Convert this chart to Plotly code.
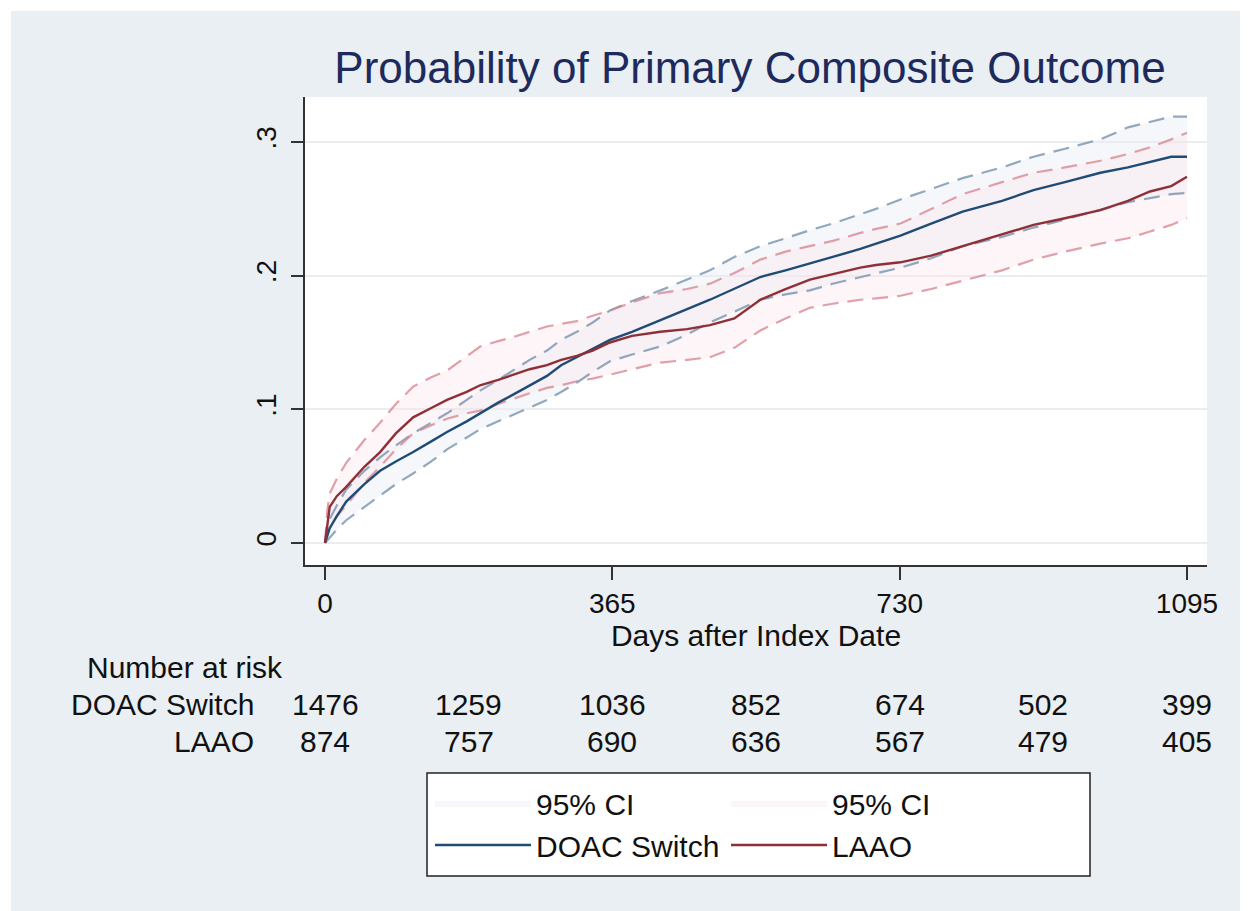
import plotly.graph_objects as go

# ---- data ----
days = [0, 3, 6, 15, 27, 50, 70, 90, 112, 135, 155, 180, 197, 220, 239, 260, 282, 300, 320, 340,
        362, 390, 426, 460, 489, 520, 553, 585, 616, 645, 680, 700, 731, 770, 810, 860, 900, 940,
        985, 1020, 1048, 1075, 1095]

doac = [0, 0.006, 0.011, 0.020, 0.031, 0.044, 0.054, 0.061, 0.068, 0.076, 0.083, 0.091, 0.097, 0.105,
        0.111, 0.118, 0.125, 0.133, 0.139, 0.145, 0.152, 0.158, 0.167, 0.175, 0.182, 0.190, 0.199,
        0.204, 0.209, 0.214, 0.220, 0.224, 0.230, 0.239, 0.248, 0.256, 0.264, 0.270, 0.277, 0.281,
        0.285, 0.289, 0.289]
doac_hi = [0, 0.012, 0.018, 0.028, 0.040, 0.054, 0.064, 0.073, 0.082, 0.090, 0.097, 0.107, 0.114, 0.122,
           0.129, 0.137, 0.144, 0.152, 0.158, 0.165, 0.174, 0.181, 0.189, 0.197, 0.204, 0.214, 0.222,
           0.228, 0.234, 0.239, 0.246, 0.250, 0.257, 0.265, 0.273, 0.281, 0.289, 0.295, 0.302, 0.311,
           0.315, 0.319, 0.319]
doac_lo = [0, 0.002, 0.004, 0.010, 0.017, 0.027, 0.035, 0.044, 0.052, 0.061, 0.070, 0.079, 0.085, 0.091,
           0.096, 0.101, 0.107, 0.113, 0.120, 0.128, 0.136, 0.141, 0.147, 0.156, 0.165, 0.173, 0.182,
           0.186, 0.189, 0.194, 0.199, 0.202, 0.206, 0.213, 0.222, 0.229, 0.236, 0.242, 0.249, 0.255,
           0.258, 0.261, 0.262]

laao = [0, 0.015, 0.027, 0.035, 0.042, 0.057, 0.068, 0.082, 0.094, 0.101, 0.107, 0.113, 0.118, 0.122,
        0.126, 0.130, 0.133, 0.137, 0.140, 0.144, 0.150, 0.155, 0.158, 0.160, 0.163, 0.168, 0.182,
        0.190, 0.197, 0.201, 0.206, 0.208, 0.210, 0.215, 0.222, 0.231, 0.238, 0.243, 0.249, 0.256,
        0.263, 0.267, 0.274]
laao_hi = [0, 0.025, 0.037, 0.048, 0.060, 0.077, 0.090, 0.104, 0.117, 0.124, 0.129, 0.140, 0.147, 0.151,
           0.154, 0.158, 0.162, 0.164, 0.166, 0.170, 0.174, 0.180, 0.187, 0.190, 0.194, 0.202, 0.212,
           0.218, 0.222, 0.226, 0.232, 0.235, 0.239, 0.250, 0.261, 0.270, 0.277, 0.281, 0.286, 0.291,
           0.296, 0.302, 0.307]
laao_lo = [0, 0.006, 0.012, 0.020, 0.028, 0.045, 0.057, 0.070, 0.082, 0.088, 0.093, 0.097, 0.099, 0.104,
           0.108, 0.112, 0.116, 0.118, 0.121, 0.123, 0.126, 0.130, 0.135, 0.137, 0.139, 0.146, 0.159,
           0.168, 0.176, 0.179, 0.182, 0.183, 0.185, 0.190, 0.196, 0.204, 0.212, 0.218, 0.224, 0.228,
           0.233, 0.238, 0.243]

x_ticks = [0, 365, 730, 1095]
y_ticks = [0, 0.1, 0.2, 0.3]
y_tick_labels = ["0", ".1", ".2", ".3"]

risk_days = [0, 182.5, 365, 547.5, 730, 912.5, 1095]
risk_doac = [1476, 1259, 1036, 852, 674, 502, 399]
risk_laao = [874, 757, 690, 636, 567, 479, 405]

# ---- styling ----
FONT = "Liberation Sans, Arial, Helvetica, sans-serif"
BLUE = "#1f4b75"
RED = "#8f2f38"
BLUE_DASH = "rgba(110,140,170,0.75)"
RED_DASH = "rgba(215,130,140,0.75)"
BLUE_FILL = "rgba(232,234,242,0.40)"
RED_FILL = "rgba(250,226,233,0.35)"
BG = "#e9eff3"

# layout geometry (page pixels); the page body adds an 8px offset
OFF = 8
W, H = 1248, 911
PL, PR, PT, PB = 305, 1207, 97, 565
PW, PH = PR - PL, PB - PT


def xp(px):
    return (px - PL) / PW


def yp(py):
    return (PB - py) / PH


fig = go.Figure()

# CI areas
fig.add_trace(go.Scatter(
    x=days + days[::-1], y=doac_hi + doac_lo[::-1], fill="toself", fillcolor=BLUE_FILL,
    line=dict(width=0), mode="lines", name="95% CI", legendgroup="doac", legendrank=1,
    hoverinfo="skip"))
fig.add_trace(go.Scatter(
    x=days + days[::-1], y=laao_hi + laao_lo[::-1], fill="toself", fillcolor=RED_FILL,
    line=dict(width=0), mode="lines", name="95% CI", legendgroup="laao", legendrank=3,
    hoverinfo="skip"))

# CI boundary dashed lines
for arr, col in [(doac_hi, BLUE_DASH), (doac_lo, BLUE_DASH), (laao_hi, RED_DASH), (laao_lo, RED_DASH)]:
    fig.add_trace(go.Scatter(x=days, y=arr, mode="lines", showlegend=False,
                             line=dict(color=col, width=2.2, dash="16px,9px")))

# cumulative incidence curves
fig.add_trace(go.Scatter(x=days, y=doac, mode="lines", name="DOAC Switch", legendgroup="doac",
                         legendrank=2, line=dict(color=BLUE, width=2.4)))
fig.add_trace(go.Scatter(x=days, y=laao, mode="lines", name="LAAO", legendgroup="laao",
                         legendrank=4, line=dict(color=RED, width=2.4)))

TXT = dict(family=FONT, size=30, color="#111111")
annotations = [dict(x=xp(85), y=yp(667), xref="paper", yref="paper", text="Number at risk",
                    showarrow=False, xanchor="left", yanchor="middle", font=TXT)]
for label, vals, py in [("DOAC Switch", risk_doac, 704), ("LAAO", risk_laao, 741)]:
    annotations.append(dict(x=xp(256), y=yp(py), xref="paper", yref="paper", text=label,
                            showarrow=False, xanchor="right", yanchor="middle", font=TXT))
    for d, v in zip(risk_days, vals):
        annotations.append(dict(x=d, y=yp(py), xref="x", yref="paper", text=str(v),
                                showarrow=False, xanchor="center", yanchor="middle", font=TXT))

fig.update_layout(
    width=W, height=H,
    margin=dict(l=PL - OFF, r=W - (PR - OFF), t=PT - OFF, b=H - (PB - OFF), autoexpand=False),
    paper_bgcolor=BG, plot_bgcolor="white",
    font=dict(family=FONT, size=28, color="#111111"),
    title=dict(text="Probability of Primary Composite Outcome", x=(750 - OFF) / W, xanchor="center",
               xref="container", yref="container", y=1 - (68 - OFF) / H, yanchor="middle",
               font=dict(family=FONT, size=44, color="#1f2a5c")),
    xaxis=dict(range=[-25.4, 1120.4], tickvals=x_ticks, ticks="outside", ticklen=13, tickwidth=1.5,
               tickcolor="#333", showline=True, linecolor="#333", linewidth=1.5, showgrid=False,
               zeroline=False, title=dict(text="Days after Index Date", standoff=2,
                                          font=dict(size=30)),
               tickfont=dict(size=28)),
    yaxis=dict(range=[-0.0165, 0.3337], tickvals=y_ticks, ticktext=y_tick_labels, tickangle=-90,
               ticks="outside", ticklen=12, tickwidth=1.5, tickcolor="#333", showline=True,
               linecolor="#333", linewidth=1.5, showgrid=True, gridcolor="#ebeef0", gridwidth=2,
               zeroline=False, tickfont=dict(size=28), ticklabelstandoff=4),
    legend=dict(orientation="h", traceorder="grouped", x=xp(430), xanchor="left",
                y=yp(777), yanchor="top", bgcolor="rgba(0,0,0,0)", borderwidth=0,
                itemwidth=96, entrywidth=185, tracegroupgap=0,
                font=dict(family=FONT, size=30, color="#111")),
    annotations=annotations,
    shapes=[
        # thin white page edge on the left and top
        dict(type="rect", xref="paper", yref="paper", x0=-2, x1=xp(11), y0=-3, y1=3,
             fillcolor="white", line=dict(width=0), layer="below"),
        dict(type="rect", xref="paper", yref="paper", x0=-2, x1=3, y0=yp(11), y1=3,
             fillcolor="white", line=dict(width=0), layer="below"),
        # legend frame
        dict(type="rect", xref="paper", yref="paper", x0=xp(427), x1=xp(1090), y0=yp(876),
             y1=yp(773), fillcolor="white", line=dict(color="#222", width=1.5), layer="above"),
    ],
    showlegend=True,
)

fig.write_html("out.html")
